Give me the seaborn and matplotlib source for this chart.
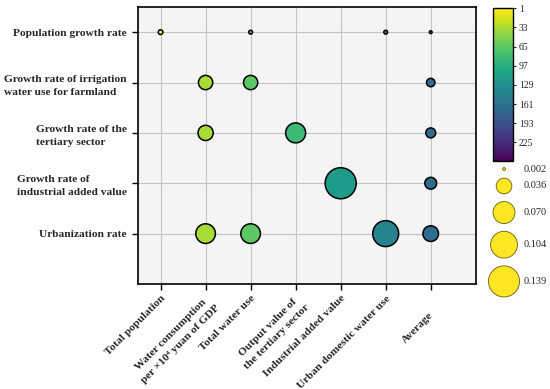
import numpy as np
import pandas as pd
import seaborn as sns
import matplotlib.pyplot as plt
from matplotlib.colors import Normalize
from matplotlib.cm import ScalarMappable
from matplotlib.transforms import ScaledTranslation

# Categories
row_labels = ['Population growth rate',
              'Growth rate of irrigation\nwater use for farmland',
              'Growth rate of the\ntertiary sector',
              'Growth rate of\nindustrial added value',
              'Urbanization rate']
col_labels = ['Total population',
              'Water consumption\nper \u00d710\u2074 yuan of GDP',
              'Total water use',
              'Output value of\nthe tertiary sector',
              'Industrial added value',
              'Urban domestic water use',
              'Average']
col_colour = [1, 34, 65, 83, 116, 141, 167]   # colour index of each column

# Bubbles (row index, column index, value)
pt_row = [0, 0, 0, 0, 1, 1, 1, 2, 2, 2, 3, 3, 4, 4, 4, 4]
pt_col = [0, 2, 5, 6, 1, 2, 6, 1, 3, 6, 4, 6, 1, 2, 5, 6]
pt_value = [0.004, 0.003, 0.003, 0.002,
            0.030, 0.030, 0.011,
            0.034, 0.058, 0.015,
            0.139, 0.021,
            0.056, 0.056, 0.097, 0.036]

legend_values = [0.002, 0.036, 0.070, 0.104, 0.139]
cbar_ticks = [1, 33, 65, 97, 129, 161, 193, 225]

df = pd.DataFrame({'row': pt_row, 'col': pt_col, 'value': pt_value})
df['colour'] = [col_colour[c] for c in pt_col]

sns.set_style('ticks')
plt.rcParams['font.family'] = ['Liberation Serif', 'DejaVu Serif']

vmin, vmax = min(pt_value), max(pt_value)
smin, smax = 4, 500
def size_of(v):
    return smin + (v - vmin) / (vmax - vmin) * (smax - smin)

fig = plt.figure(figsize=(5.5, 3.89), dpi=100)
ax = fig.add_axes([0.251, 0.270, 0.614, 0.712])
ax.set_facecolor('#f4f4f4')

sns.scatterplot(data=df, x='col', y='row', hue='colour', palette='viridis_r',
                hue_norm=(1, 256), size='value', sizes=(smin, smax),
                size_norm=(vmin, vmax), edgecolor='black', linewidth=1.1,
                legend=False, ax=ax, zorder=3)

ax.set_xlim(-0.5, 7.0)
ax.set_ylim(5.0, -0.5)
ax.set_xticks(range(len(col_labels)))
ax.set_yticks(range(len(row_labels)))
ax.set_xticklabels(col_labels, rotation=45, ha='right', va='top',
                   rotation_mode='anchor', multialignment='center',
                   fontsize=8.2, fontweight='bold', linespacing=1.6)
ax.set_yticklabels(row_labels, multialignment='left', fontsize=8.2,
                   fontweight='bold', linespacing=1.6)
ax.set_xlabel('')
ax.set_ylabel('')
ax.grid(True, color='#c4c4c4', linewidth=0.8)
ax.set_axisbelow(True)
ax.tick_params(direction='out', length=4, width=1.0, color='black')
ax.tick_params(axis='y', pad=4)
ax.tick_params(axis='x', pad=3)
for s in ax.spines.values():
    s.set_linewidth(1.2)
    s.set_color('black')

# the "Average" label sits a little lower in the original
avg_lbl = ax.get_xticklabels()[-1]
avg_lbl.set_transform(avg_lbl.get_transform() +
                      ScaledTranslation(-0.02, -0.17, fig.dpi_scale_trans))

# Colour bar
cax = fig.add_axes([0.896, 0.586, 0.036, 0.393])
sm = ScalarMappable(norm=Normalize(1, 256), cmap='viridis_r')
cb = fig.colorbar(sm, cax=cax, ticks=cbar_ticks)
cax.invert_yaxis()
cb.outline.set_linewidth(1.0)
cb.outline.set_edgecolor('black')
cax.tick_params(labelsize=7, length=2.5, width=0.8, pad=2)

# Size legend
lax = fig.add_axes([0.87, 0.0, 0.13, 0.586])
lax.set_xlim(0, 1)
lax.set_ylim(1, 0)
lax.axis('off')
ax_h_pt = 0.586 * 3.89 * 72
leg_y = []
y = 0.035
prev_r = 0
for v in legend_values:
    r = np.sqrt(size_of(v)) / ax_h_pt / 2
    y = y + prev_r + r + 0.034 if leg_y else y
    leg_y.append(y)
    prev_r = r
lax.scatter([0.357] * len(legend_values), leg_y,
            s=[size_of(v) for v in legend_values], color='#fde725',
            edgecolor='#6b5d00', linewidth=0.6, clip_on=False)
for v, yy in zip(legend_values, leg_y):
    lax.text(0.636, yy, f'{v:.3f}', fontsize=7.5, va='center', ha='left')

fig.savefig('out.png', dpi=100)
